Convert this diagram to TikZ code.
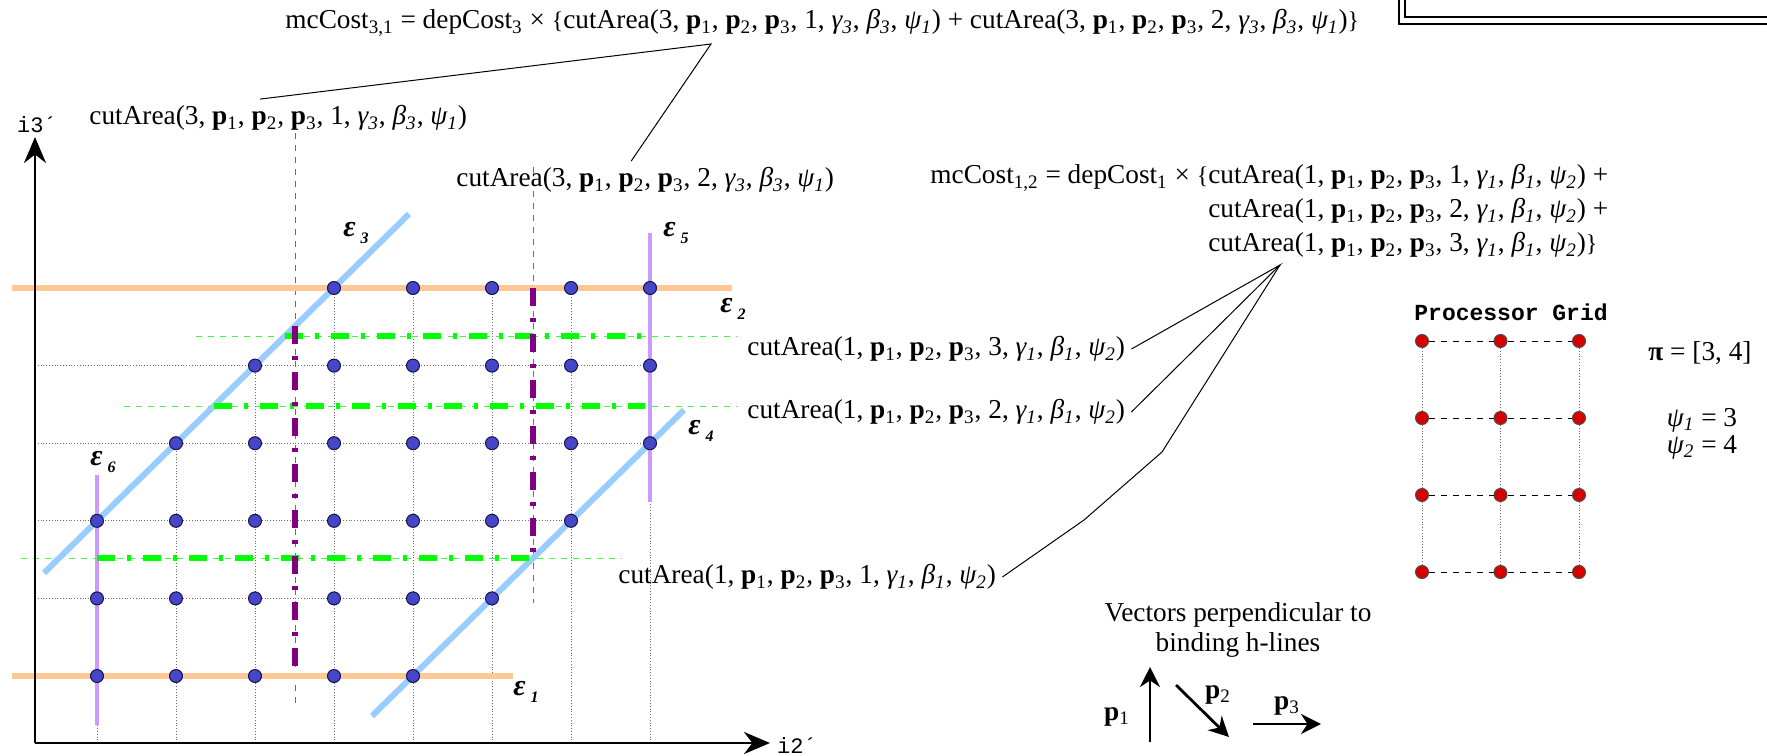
\documentclass[tikz,border=0pt]{standalone}
\usepackage{xcolor}
\usepackage{fontspec}
\setmainfont{Liberation Serif}
\newfontfamily\monofont{Liberation Mono}
\usepackage{tikz}
\usetikzlibrary{arrows.meta, positioning, calc}
\definecolor{myorange}{RGB}{253,200,150}
\definecolor{myblue}{RGB}{153,204,255}
\definecolor{mylilac}{RGB}{204,153,255}
\definecolor{mypurple}{RGB}{128,0,128}
\definecolor{mymagenta}{RGB}{176,64,176}
\definecolor{mygreen}{RGB}{0,255,0}
\definecolor{mylightgreen}{RGB}{60,250,60}
\definecolor{mydot}{RGB}{70,70,200}
\definecolor{mydotline}{RGB}{20,20,70}
\definecolor{myred}{RGB}{215,0,0}
\definecolor{mygray}{RGB}{110,110,110}
\newcommand{\bp}[1]{\textbf{p}\textsubscript{#1}}
\newcommand{\gk}[2]{\textit{#1\textsubscript{#2}}}
\newcommand{\cutarea}[4]{cutArea(#1, \bp{1}, \bp{2}, \bp{3}, #2, \gk{γ}{#3}, \gk{β}{#3}, \gk{ψ}{#4})}
\newcommand{\epslab}[1]{\textbf{\textit{ε\,\raisebox{-0.45ex}{\footnotesize #1}}}}
\tikzset{
  lbl/.style={font=\fontsize{13.65}{17}\selectfont, inner sep=3pt},
  epsl/.style={font=\fontsize{15}{17}\selectfont, inner sep=0pt},
  gridline/.style={densely dotted, color=mygray, line width=0.4pt},
  thingreen/.style={dashed, color=mylightgreen, line width=0.5pt},
  thinpurple/.style={dashed, color=mymagenta, line width=0.5pt},
  hbound/.style={color=myorange, line width=3pt},
  dbound/.style={color=myblue, line width=3pt},
  vbound/.style={color=mylilac, line width=2pt},
  cutgreen/.style={color=mygreen, line width=2.8pt,
    dash pattern=on 9pt off 6pt on 2pt off 6pt},
  cutpurple/.style={color=mypurple, line width=2.6pt,
    dash pattern=on 9pt off 6pt on 2pt off 6pt},
  dot/.style={circle, fill=mydot, draw=mydotline, line width=0.5pt,
    minimum size=6.5pt, inner sep=0pt},
  pdot/.style={circle, fill=myred, draw=black!70, line width=0.5pt,
    minimum size=6.5pt, inner sep=0pt},
  axisarrow/.style={-{Stealth[length=13pt, width=11pt]}, line width=1.4pt},
  vecarrow/.style={-{Stealth[length=10pt, width=10pt]}, line width=1.4pt},
  conn/.style={line width=0.5pt, color=black}
}

\begin{document}
\begin{tikzpicture}[x=0.5pt, y=-0.5pt]
  \useasboundingbox (0,0) rectangle (1767,755);
  % axes
  \coordinate (origin) at (35,743);
  \coordinate (i3tip) at (35,137);
  \coordinate (i2tip) at (770,743);
  \node[font=\monofont\fontsize{11}{13}\selectfont] (i3) at (37,125) {i3´};
  \node[font=\monofont\fontsize{11}{13}\selectfont] (i2) at (797,746) {i2´};
  % gray grid
  \foreach \r/\e in {1/8, 2/8, 3/8, 4/7, 5/6, 6/5}
    \draw[gridline] (35,{288+77.6*(\r-1)}) -- ({97+79*(\e-1)},{288+77.6*(\r-1)});
  \foreach \c/\t in {1/4, 2/3, 3/2, 4/1, 5/1, 6/1, 7/1, 8/1}
    \draw[gridline] ({97+79*(\c-1)},743) -- ({97+79*(\c-1)},{288+77.6*(\t-1)});
  % thin dashed lines
  \draw[thingreen] (196,336) -- (737,336);
  \draw[thingreen] (124,406) -- (737,406);
  \draw[thingreen] (21,558) -- (622,558);
  \draw[thinpurple] (295,133) -- (295,706);
  \draw[thinpurple] (533,167) -- (533,603);
  % binding lines
  \draw[hbound] (12,288) -- (732,288);
  \draw[hbound] (12,676) -- (513,676);
  \draw[dbound] (44,573) -- (409,214);
  \draw[dbound] (372,716) -- (684,410);
  \draw[vbound] (650,233) -- (650,502);
  \draw[vbound] (97,475) -- (97,725);
  % cut lines
  \draw[cutgreen] (285,336) -- (650,336);
  \draw[cutgreen] (214,406) -- (645,406);
  \draw[cutgreen] (97,558) -- (533,558);
  \draw[cutpurple] (295,326) -- (295,676);
  \draw[cutpurple] (533,288) -- (533,558);
  \draw[axisarrow] (origin) -- (i3tip);
  \draw[axisarrow] (origin) -- (i2tip);
  % iteration points
  \foreach \r/\s/\e in {1/4/8, 2/3/8, 3/2/8, 4/1/7, 5/1/6, 6/1/5}
    \foreach \c in {\s,...,\e}
      \node[dot] (d-\r-\c) at ({97+79*(\c-1)},{288+77.6*(\r-1)}) {};
  \node[epsl] (e1) at (526,692) {\epslab{1}};
  \node[epsl] (e2) at (733,309) {\epslab{2}};
  \node[epsl] (e3) at (356,233) {\epslab{3}};
  \node[epsl] (e4) at (701,431) {\epslab{4}};
  \node[epsl] (e5) at (676,233) {\epslab{5}};
  \node[epsl] (e6) at (103,462) {\epslab{6}};
  % cost formulas
  \node[lbl, anchor=west] (mc31) at (279,23)
    {mcCost\textsubscript{3,1} = depCost\textsubscript{3} × {\large\{}\cutarea{3}{1}{3}{1} + \cutarea{3}{2}{3}{1}{\large\}}};
  \node[lbl, anchor=west] (ca31a) at (83,118) {\cutarea{3}{1}{3}{1}};
  \node[lbl, anchor=west] (ca31b) at (450,180) {\cutarea{3}{2}{3}{1}};
  \node[lbl, anchor=west] (mc12) at (924,211) {\begin{tabular}{@{}r@{}l@{}}
    mcCost\textsubscript{1,2} = depCost\textsubscript{1} × {\large\{} & \cutarea{1}{1}{1}{2} +\\
    & \cutarea{1}{2}{1}{2} +\\
    & \cutarea{1}{3}{1}{2}{\large\}}\end{tabular}};
  \node[lbl, anchor=west] (ca12c) at (741,349) {\cutarea{1}{3}{1}{2}};
  \node[lbl, anchor=west] (ca12b) at (741,412) {\cutarea{1}{2}{1}{2}};
  \node[lbl, anchor=west] (ca12a) at (612,577) {\cutarea{1}{1}{1}{2}};
  \coordinate (fan31) at (711,44);
  \coordinate (fan12) at (1280,265);
  \draw[conn] ([xshift=-9pt]ca31a.north) -- (fan31) -- ([xshift=-7pt]ca31b.north);
  \draw[conn] (ca12c.east) -- (fan12) -- (ca12b.east);
  \draw[conn] (ca12a.east) -- (1084,520) -- (1162,452) -- (fan12);
  % frame at top right
  \draw[line width=1.2pt] (1399,0) |- (1767,24);
  \draw[line width=0.8pt] (1405,0) |- (1767,17);
  % processor grid
  \node[font=\monofont\bfseries\fontsize{11.5}{13}\selectfont] (pgt) at (1511,312) {Processor Grid};
  \foreach \r in {1,...,4}
    \foreach \c in {1,2,3}
      \node[pdot] (pg-\r-\c) at ({1422+78.5*(\c-1)},{341+77*(\r-1)}) {};
  \foreach \r in {1,...,4}
    \draw[dashed, line width=0.4pt] (pg-\r-1) -- (pg-\r-2) -- (pg-\r-3);
  \foreach \c in {1,2,3}
    \draw[gridline] (pg-1-\c) -- (pg-2-\c) -- (pg-3-\c) -- (pg-4-\c);
  \node[lbl] (pi) at (1700,353) {\textbf{π} = [3, 4]};
  \node[lbl] (psi1) at (1702,420) {\gk{ψ}{1} = 3};
  \node[lbl] (psi2) at (1702,447) {\gk{ψ}{2} = 4};
  % perpendicular vectors
  \node[lbl, align=center, font=\fontsize{13.65}{15}\selectfont] (vtxt) at (1238,630)
    {Vectors perpendicular to\\binding h-lines};
  \coordinate (p1a) at (1150,742);
  \coordinate (p1b) at (1150,667);
  \coordinate (p2a) at (1176,685);
  \coordinate (p2b) at (1229,737);
  \coordinate (p3a) at (1253,724);
  \coordinate (p3b) at (1321,724);
  \draw[vecarrow] (p1a) -- (p1b);
  \draw[vecarrow] (p2a) -- (p2b);
  \draw[vecarrow] (p3a) -- (p3b);
  \node[lbl] (p1l) at (1117,717) {\bp{1}};
  \node[lbl] (p2l) at (1218,695) {\bp{2}};
  \node[lbl] (p3l) at (1287,706) {\bp{3}};
\end{tikzpicture}
\end{document}
